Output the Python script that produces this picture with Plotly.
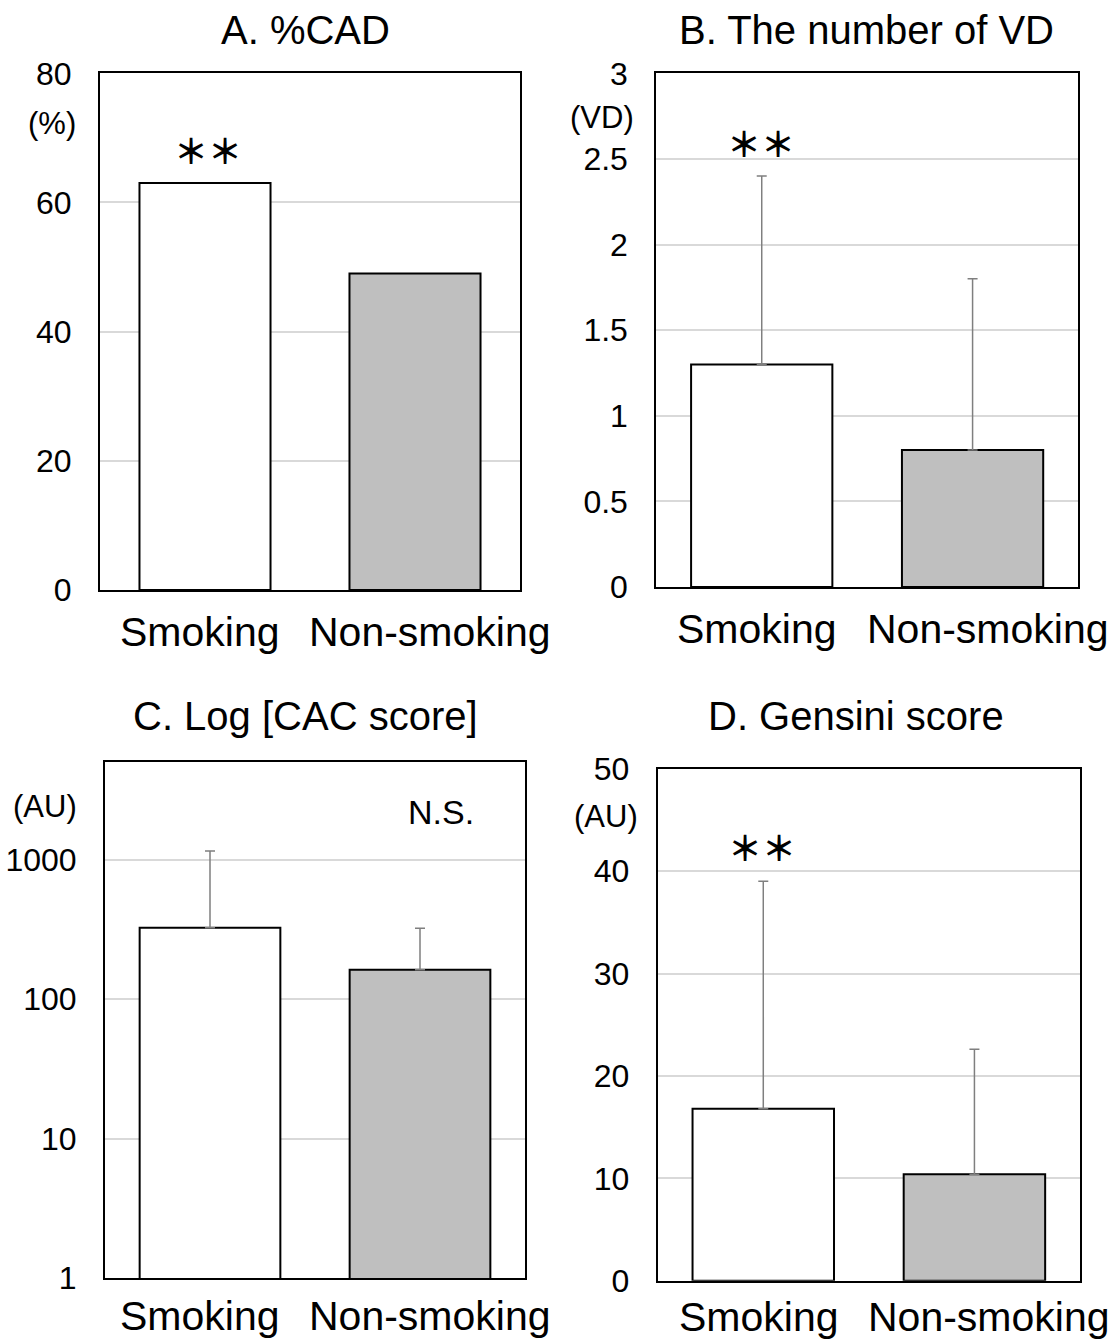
import plotly.graph_objects as go

# ---- data -------------------------------------------------------------
groups = ["Smoking", "Non-smoking"]

cad_percent = [63, 49]            # A. %CAD

vd_mean = [1.3, 0.8]              # B. number of vessels diseased
vd_sd = [1.1, 1.0]

cac_mean = [324, 162]             # C. CAC score (log axis)
cac_sd = [826, 160]

gensini_mean = [16.8, 10.4]       # D. Gensini score
gensini_sd = [22.2, 12.2]

bar_fill = ["#ffffff", "#bfbfbf"]

# ---- page geometry (pixels) --------------------------------------------
W, H = 1120, 1341
FONT = "Liberation Sans, Arial, sans-serif"


def px_x(x):
    return x / W


def px_y(y):
    return 1 - y / H


panels = {
    # name: (x0, x1, y_top, y_bottom)
    "A": (100, 520, 73.3, 590),
    "B": (656.3, 1078, 73.3, 587),
    "C": (105, 525, 762, 1278),
    "D": (657.7, 1080, 768.7, 1280.7),
}

fig = go.Figure()

err_style = dict(type="data", symmetric=False, color="#7f7f7f",
                 thickness=1.5, width=5)


def add_bars(values, axis_idx, bar_width, err=None):
    suffix = "" if axis_idx == 1 else str(axis_idx)
    kw = {}
    if err is not None:
        kw["error_y"] = dict(array=err, arrayminus=[0] * len(err), **err_style)
    fig.add_trace(go.Bar(
        x=groups, y=values,
        width=[bar_width] * len(values),
        marker=dict(color=bar_fill, line=dict(color="black", width=2)),
        xaxis="x" + suffix, yaxis="y" + suffix,
        showlegend=False, hoverinfo="x+y",
        **kw,
    ))


add_bars(cad_percent, 1, 0.624)
add_bars(vd_mean, 2, 0.67, vd_sd)
add_bars(cac_mean, 3, 0.67, cac_sd)
add_bars(gensini_mean, 4, 0.67, gensini_sd)

tick_font = dict(family=FONT, size=32, color="black")


def x_axis(name, anchor):
    x0, x1, _, _ = panels[name]
    return dict(domain=[px_x(x0), px_x(x1)], anchor=anchor,
                type="category", range=[-0.5, 1.5], automargin=False,
                showline=True, mirror=True, linecolor="black", linewidth=2,
                showgrid=False, showticklabels=False, ticks="",
                fixedrange=True)


def y_axis(name, anchor, **extra):
    _, _, yt, yb = panels[name]
    d = dict(domain=[px_y(yb), px_y(yt)], anchor=anchor, automargin=False,
             showline=True, mirror=True, linecolor="black", linewidth=2,
             showgrid=True, gridcolor="#d9d9d9", gridwidth=1.5,
             zeroline=False, ticks="", tickfont=tick_font,
             ticklabelstandoff=20, fixedrange=True)
    d.update(extra)
    return d


layout_axes = dict(
    xaxis=x_axis("A", "y"),
    yaxis=y_axis("A", "x", range=[0, 80], tickvals=[0, 20, 40, 60, 80]),
    xaxis2=x_axis("B", "y2"),
    yaxis2=y_axis("B", "x2", range=[0, 3],
                  tickvals=[0, 0.5, 1, 1.5, 2, 2.5, 3],
                  ticktext=["0", "0.5", "1", "1.5", "2", "2.5", "3"]),
    xaxis3=x_axis("C", "y3"),
    yaxis3=y_axis("C", "x3", type="log", range=[0, 3.69897],
                  tickvals=[1, 10, 100, 1000],
                  ticktext=["1", "10", "100", "1000"]),
    xaxis4=x_axis("D", "y4"),
    yaxis4=y_axis("D", "x4", range=[0, 50],
                  tickvals=[0, 10, 20, 30, 40, 50]),
)

annotations = []


def text_at(x, y, text, size, family=FONT):
    annotations.append(dict(
        x=px_x(x), y=px_y(y), xref="paper", yref="paper",
        text=text, showarrow=False, xanchor="center", yanchor="middle",
        font=dict(family=family, size=size, color="black")))


# panel titles
text_at(306, 30, "A. %CAD", 40)
text_at(866, 30, "B. The number of VD", 40)
text_at(306, 716, "C. Log [CAC score]", 40)
text_at(856, 716, "D. Gensini score", 40)

# axis unit labels
text_at(52, 123, "(%)", 31)
text_at(601.5, 118, "(VD)", 31)
text_at(45, 806, "(AU)", 31)
text_at(605.5, 816, "(AU)", 31)

# significance marks
STAR_FONT = "Noto Sans CJK JP, sans-serif"
text_at(208, 149, "<b>＊＊</b>", 34, STAR_FONT)
text_at(761, 142, "<b>＊＊</b>", 34, STAR_FONT)
text_at(761.5, 847, "<b>＊＊</b>", 34, STAR_FONT)
text_at(440.5, 812, "N.S.", 34)

# category labels below each panel
label_shift = {
    "": ([-5, 15], -42),
    "2": ([-4.5, 15], -42),
    "3": ([-10, 10], -38),
    "4": ([-4.5, 14.5], -36),
}
for suffix, (shifts, yshift) in label_shift.items():
    for g, dx in zip(groups, shifts):
        annotations.append(dict(
            x=g, xref="x" + suffix, y=0, yref=("y" + suffix) + " domain",
            text=g, showarrow=False, xanchor="center", yanchor="middle",
            xshift=dx, yshift=yshift,
            font=dict(family=FONT, size=41, color="black")))

fig.update_layout(
    width=W, height=H, autosize=False,
    margin=dict(l=0, r=0, t=0, b=0),
    paper_bgcolor="white", plot_bgcolor="white",
    font=dict(family=FONT, color="black"),
    annotations=annotations,
    **layout_axes,
)

fig.write_html("out.html")
